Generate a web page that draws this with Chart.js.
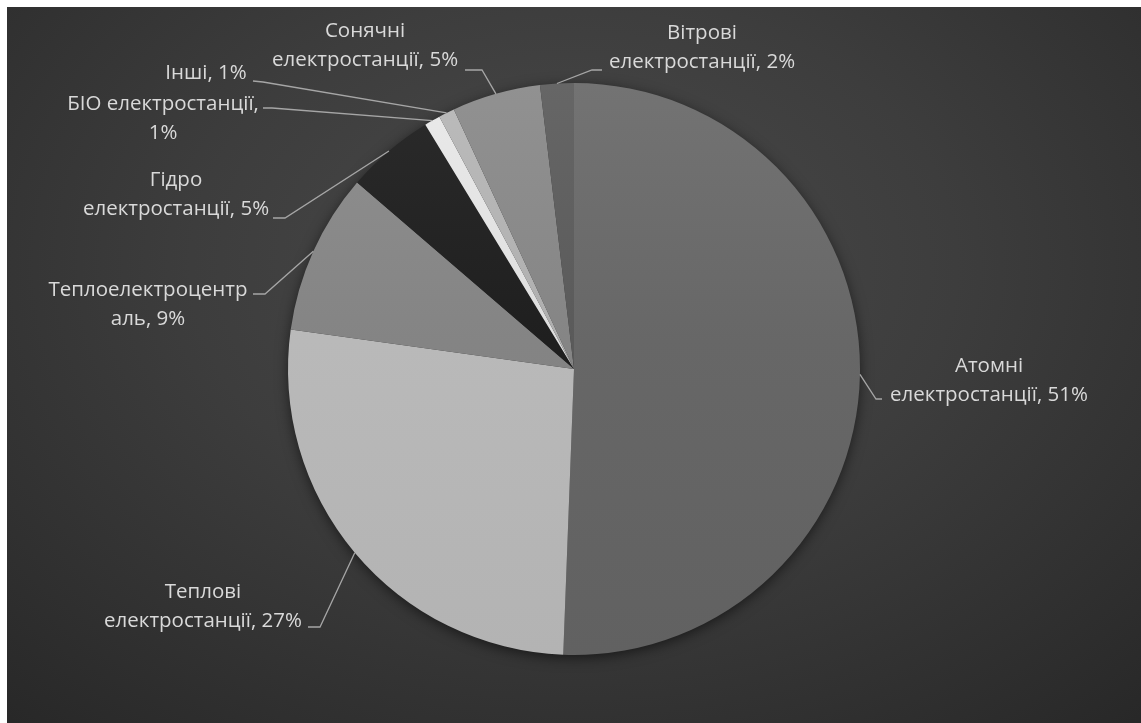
<!DOCTYPE html>
<html lang="uk">
<head>
<meta charset="utf-8">
<title>Структура виробництва електроенергії</title>
<script src="https://cdn.jsdelivr.net/npm/chart.js@4.4.1/dist/chart.umd.min.js"></script>
<style>
  html, body { margin: 0; padding: 0; background: #fff; }
  #wrap {
    position: absolute; left: 7px; top: 7px; width: 1134px; height: 716px;
    background: radial-gradient(ellipse 75% 85% at 50% 36%, #4a4a4a 0%, #3d3d3d 45%, #282828 100%);
  }
</style>
</head>
<body>
<div id="wrap"><canvas id="energyChart" width="1134" height="716"></canvas></div>
<script>
// Частки виробництва електроенергії, %
const categories = [
  'Атомні електростанції',
  'Теплові електростанції',
  'Теплоелектроцентраль',
  'Гідро електростанції',
  'БІО електростанції',
  'Інші',
  'Сонячні електростанції',
  'Вітрові електростанції'
];
const shares = [50.6, 26.6, 9.1, 5.0, 0.9, 0.9, 5.0, 1.9];
const sliceColors = ['#676767', '#b9b9b9', '#848484', '#1f1f1f', '#dedede', '#afafaf', '#858585', '#5a5a5a'];

// how each label is broken into lines ({p} = percent)
const labelFormats = [
  'Атомні\nелектростанції, {p}%',
  'Теплові\nелектростанції, {p}%',
  'Теплоелектроцентр\nаль, {p}%',
  'Гідро\nелектростанції, {p}%',
  'БІО електростанції,\n{p}%',
  'Інші, {p}%',
  'Сонячні\nелектростанції, {p}%',
  'Вітрові\nелектростанції, {p}%'
];

// label placement, offsets from the pie centre (text centre, leader hook, leader elbow)
const labelLayout = [
  { text: [415, -3],    hook: [308, 30],    elbow: [302, 30] },
  { text: [-371, 223],  hook: [-266, 258],  elbow: [-254, 258] },
  { text: [-426, -79],  hook: [-321, -75],  elbow: [-309, -75] },
  { text: [-398, -189], hook: [-301, -151], elbow: [-289, -151] },
  { text: [-411, -265], hook: [-311, -261], elbow: [-302, -261] },
  { text: [-368, -296], hook: [-321, -288], elbow: [-311, -287] },
  { text: [-209, -338], hook: [-109, -299], elbow: [-92, -299] },
  { text: [128, -336],  hook: [28, -299],   elbow: [18, -299] }
];

const LINE_HEIGHT = 29;
const FONT = '20.5px "Open Sans", sans-serif';

function shade(hex, amt) {
  const n = parseInt(hex.slice(1), 16);
  const c = v => Math.max(0, Math.min(255, v + amt));
  const r = c(n >> 16), g = c((n >> 8) & 255), b = c(n & 255);
  return `rgb(${r}, ${g}, ${b})`;
}

// light-to-dark vertical shading over the pie
function sliceFill(context) {
  const base = sliceColors[context.dataIndex];
  const area = context.chart.chartArea;
  if (!area) return base;
  const g = context.chart.ctx.createLinearGradient(0, area.top, 0, area.bottom);
  g.addColorStop(0, shade(base, 12));
  g.addColorStop(0.45, shade(base, 0));
  g.addColorStop(1, shade(base, -6));
  return g;
}

const pieLabels = {
  id: 'pieLabels',
  beforeDatasetsDraw(chart) {
    // soft shadow under the pie
    const arc = chart.getDatasetMeta(0).data[0];
    if (!arc) return;
    const p = arc.getProps(['x', 'y', 'outerRadius'], true);
    const ctx = chart.ctx;
    ctx.save();
    ctx.shadowColor = 'rgba(0, 0, 0, 0.6)';
    ctx.shadowBlur = 14;
    ctx.shadowOffsetY = 3;
    ctx.fillStyle = '#333333';
    ctx.beginPath();
    ctx.arc(p.x, p.y, p.outerRadius - 1, 0, Math.PI * 2);
    ctx.fill();
    ctx.restore();
  },
  afterDatasetsDraw(chart) {
    const ctx = chart.ctx;
    const total = shares.reduce((a, b) => a + b, 0);
    ctx.save();
    ctx.font = FONT;
    ctx.textAlign = 'center';
    ctx.textBaseline = 'middle';
    chart.getDatasetMeta(0).data.forEach((arc, i) => {
      const p = arc.getProps(['x', 'y', 'startAngle', 'endAngle', 'outerRadius'], true);
      const mid = (p.startAngle + p.endAngle) / 2;
      const L = labelLayout[i];

      // leader line
      ctx.strokeStyle = '#a6a6a6';
      ctx.lineWidth = 1.3;
      ctx.beginPath();
      ctx.moveTo(p.x + Math.cos(mid) * p.outerRadius, p.y + Math.sin(mid) * p.outerRadius);
      ctx.lineTo(p.x + L.elbow[0], p.y + L.elbow[1]);
      ctx.lineTo(p.x + L.hook[0], p.y + L.hook[1]);
      ctx.stroke();

      // label text
      const pct = Math.round(shares[i] / total * 100);
      const lines = labelFormats[i].replace('{p}', pct).split('\n');
      ctx.fillStyle = '#d9d9d9';
      lines.forEach((t, k) => {
        ctx.fillText(t, p.x + L.text[0], p.y + L.text[1] + k * LINE_HEIGHT);
      });
    });
    ctx.restore();
  }
};

new Chart(document.getElementById('energyChart'), {
  type: 'pie',
  data: {
    labels: categories,
    datasets: [{
      data: shares,
      backgroundColor: sliceFill,
      borderWidth: 0
    }]
  },
  options: {
    responsive: false,
    animation: false,
    layout: {
      padding: { top: 76, bottom: 68, left: 100, right: 100 }
    },
    plugins: {
      legend: { display: false },
      tooltip: { enabled: false }
    }
  },
  plugins: [pieLabels]
});
</script>
</body>
</html>
